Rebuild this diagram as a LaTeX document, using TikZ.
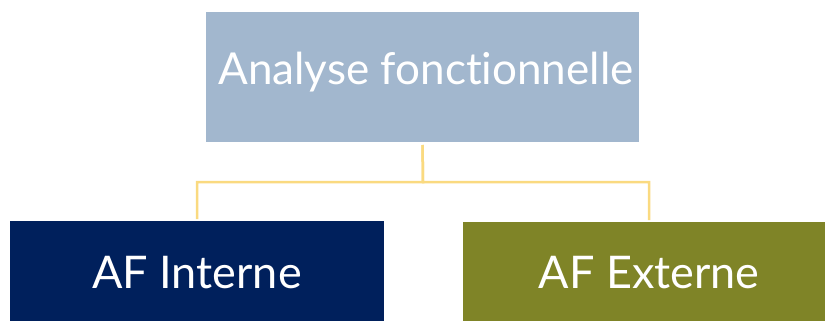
\documentclass[tikz,border=0pt]{standalone}
\usepackage{fontspec}
\setmainfont{Lato}[Ligatures={NoCommon}]
\definecolor{topc}{HTML}{A2B7CE}
\definecolor{navyc}{HTML}{00205C}
\definecolor{olivec}{HTML}{7F8427}
\definecolor{linec}{HTML}{FADA80}
\begin{document}
\begin{tikzpicture}[x=1pt,y=-1pt,
  box/.style={rectangle, inner sep=0pt, outer sep=0pt, text=white, font=\fontsize{45}{52}\selectfont},
  conn/.style={draw=linec, line width=2.5pt}]
\useasboundingbox[fill=white] (0,0) rectangle (825,321);
\node[box, fill=topc, minimum width=433pt, minimum height=130pt] (top) at (422.5,77) {};
\node[box, font=\fontsize{44}{52}\selectfont] (toptxt) at (426,72) {Analyse fonctionnelle};
\node[box, fill=navyc, minimum width=374pt, minimum height=110pt] (left) at (197,276) {};
\node[box] (lefttxt) at (197,273) {AF Interne};
\node[box, fill=olivec, minimum width=372pt, minimum height=110pt] (right) at (649,277) {};
\node[box] (righttxt) at (649,273) {AF Externe};
\coordinate (mid) at (423,182);
\draw[conn, shorten <=3pt, shorten >=2pt] (top.south) -- (mid) -| (left.north);
\draw[conn, shorten <=3pt, shorten >=2pt] (top.south) -- (mid) -| (right.north);
\end{tikzpicture}
\end{document}
